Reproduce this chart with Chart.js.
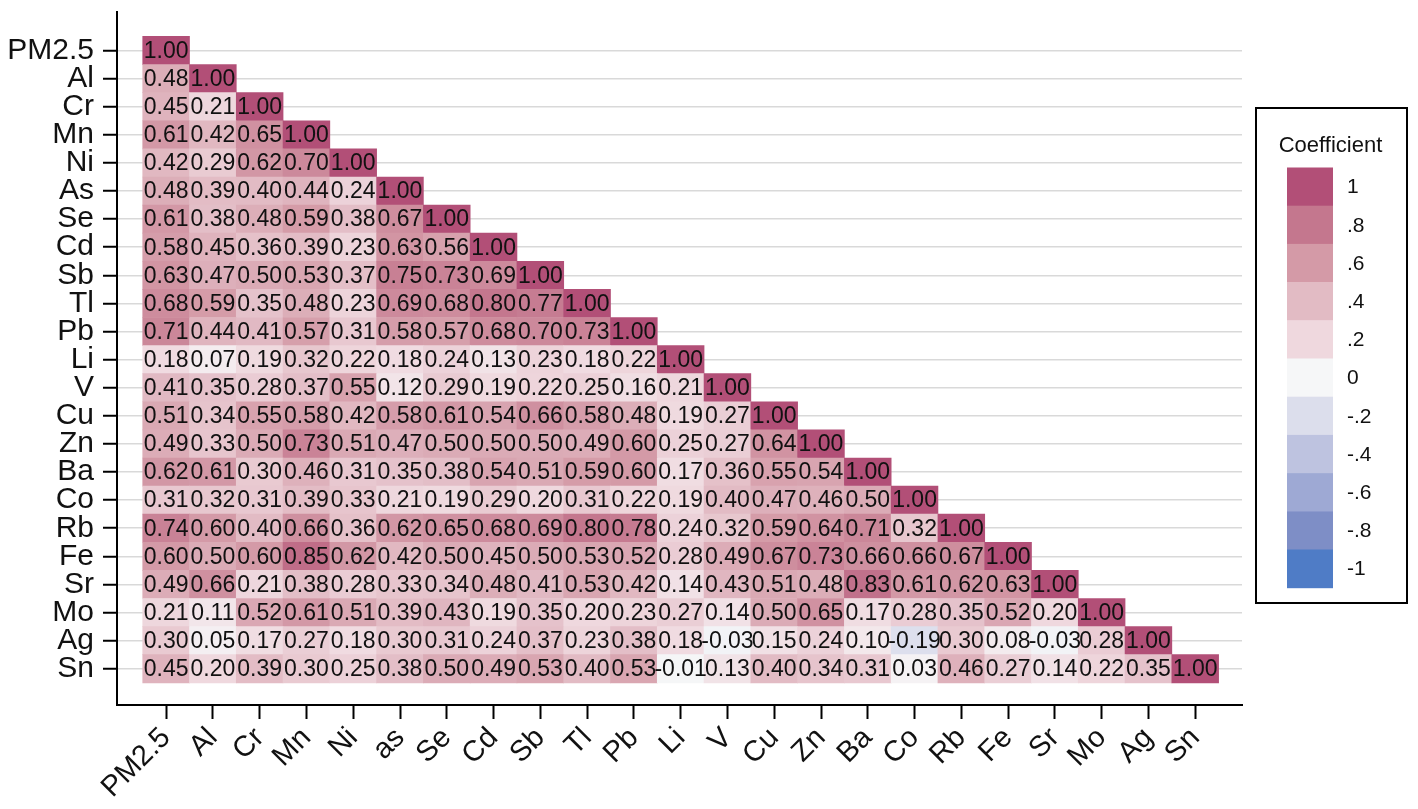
<!DOCTYPE html>
<html>
<head>
<meta charset="utf-8">
<script src="https://cdn.jsdelivr.net/npm/chart.js@4.4.1/dist/chart.umd.min.js"></script>
<style>
  html, body { margin: 0; padding: 0; background: #ffffff; }
  #wrap { width: 1418px; height: 809px; position: relative; }
</style>
</head>
<body>
<div id="wrap"><canvas id="c" width="1418" height="809"></canvas></div>
<script>
// ---------- data ----------
const rowLabels = ["PM2.5","Al","Cr","Mn","Ni","As","Se","Cd","Sb","Tl","Pb","Li","V","Cu","Zn","Ba","Co","Rb","Fe","Sr","Mo","Ag","Sn"];
const colLabels = ["PM2.5","Al","Cr","Mn","Ni","as","Se","Cd","Sb","Tl","Pb","Li","V","Cu","Zn","Ba","Co","Rb","Fe","Sr","Mo","Ag","Sn"];
const coefficients = [
  [1.00],
  [0.48,1.00],
  [0.45,0.21,1.00],
  [0.61,0.42,0.65,1.00],
  [0.42,0.29,0.62,0.70,1.00],
  [0.48,0.39,0.40,0.44,0.24,1.00],
  [0.61,0.38,0.48,0.59,0.38,0.67,1.00],
  [0.58,0.45,0.36,0.39,0.23,0.63,0.56,1.00],
  [0.63,0.47,0.50,0.53,0.37,0.75,0.73,0.69,1.00],
  [0.68,0.59,0.35,0.48,0.23,0.69,0.68,0.80,0.77,1.00],
  [0.71,0.44,0.41,0.57,0.31,0.58,0.57,0.68,0.70,0.73,1.00],
  [0.18,0.07,0.19,0.32,0.22,0.18,0.24,0.13,0.23,0.18,0.22,1.00],
  [0.41,0.35,0.28,0.37,0.55,0.12,0.29,0.19,0.22,0.25,0.16,0.21,1.00],
  [0.51,0.34,0.55,0.58,0.42,0.58,0.61,0.54,0.66,0.58,0.48,0.19,0.27,1.00],
  [0.49,0.33,0.50,0.73,0.51,0.47,0.50,0.50,0.50,0.49,0.60,0.25,0.27,0.64,1.00],
  [0.62,0.61,0.30,0.46,0.31,0.35,0.38,0.54,0.51,0.59,0.60,0.17,0.36,0.55,0.54,1.00],
  [0.31,0.32,0.31,0.39,0.33,0.21,0.19,0.29,0.20,0.31,0.22,0.19,0.40,0.47,0.46,0.50,1.00],
  [0.74,0.60,0.40,0.66,0.36,0.62,0.65,0.68,0.69,0.80,0.78,0.24,0.32,0.59,0.64,0.71,0.32,1.00],
  [0.60,0.50,0.60,0.85,0.62,0.42,0.50,0.45,0.50,0.53,0.52,0.28,0.49,0.67,0.73,0.66,0.66,0.67,1.00],
  [0.49,0.66,0.21,0.38,0.28,0.33,0.34,0.48,0.41,0.53,0.42,0.14,0.43,0.51,0.48,0.83,0.61,0.62,0.63,1.00],
  [0.21,0.11,0.52,0.61,0.51,0.39,0.43,0.19,0.35,0.20,0.23,0.27,0.14,0.50,0.65,0.17,0.28,0.35,0.52,0.20,1.00],
  [0.30,0.05,0.17,0.27,0.18,0.30,0.31,0.24,0.37,0.23,0.38,0.18,-0.03,0.15,0.24,0.10,-0.19,0.30,0.08,-0.03,0.28,1.00],
  [0.45,0.20,0.39,0.30,0.25,0.38,0.50,0.49,0.53,0.40,0.53,-0.01,0.13,0.40,0.34,0.31,0.03,0.46,0.27,0.14,0.22,0.35,1.00]
];
const legendTicks = [1, 0.8, 0.6, 0.4, 0.2, 0, -0.2, -0.4, -0.6, -0.8, -1];
const legendTickLabels = ["1", ".8", ".6", ".4", ".2", "0", "-.2", "-.4", "-.6", "-.8", "-1"];
const legendColors = ["#b24f77","#c4778e","#d49aa7","#e2bbc4","#efd8de","#f6f7f8","#dcdeec","#bec3e0","#9ea9d4","#7e8ec6","#4f7cc6"];
const legendTitle = "Coefficient";

// ---------- helpers ----------
const FONT = "'Liberation Sans', Arial, Helvetica, sans-serif";
function hexToRgb(h) {
  return [parseInt(h.slice(1,3),16), parseInt(h.slice(3,5),16), parseInt(h.slice(5,7),16)];
}
function colorFor(v) {
  for (let k = 0; k < legendTicks.length - 1; k++) {
    const hi = legendTicks[k], lo = legendTicks[k+1];
    if (v <= hi + 1e-9 && v >= lo - 1e-9) {
      const t = (hi - v) / (hi - lo);
      const a = hexToRgb(legendColors[k]), b = hexToRgb(legendColors[k+1]);
      const c = a.map((x, i) => Math.round(x + (b[i] - x) * t));
      return `rgb(${c[0]},${c[1]},${c[2]})`;
    }
  }
  return legendColors[0];
}

const cells = [];
coefficients.forEach((row, i) => {
  row.forEach((v, j) => {
    cells.push({ x: j, y: [i - 0.5, i + 0.5], v: v });
  });
});

function zeroPad(s) { s.paddingLeft = 0; s.paddingRight = 0; s.paddingTop = 0; s.paddingBottom = 0; }

// ---------- plugins ----------
const cellText = {
  id: 'cellText',
  afterDatasetsDraw(chart) {
    const ctx = chart.ctx;
    const meta = chart.getDatasetMeta(0);
    ctx.save();
    ctx.font = `23px ${FONT}`;
    ctx.fillStyle = '#111';
    ctx.textAlign = 'center';
    ctx.textBaseline = 'middle';
    meta.data.forEach((el, idx) => {
      const raw = chart.data.datasets[0].data[idx];
      const cy = (el.y + el.base) / 2;
      ctx.fillText(raw.v.toFixed(2), el.x, cy + 1);
    });
    ctx.restore();
  }
};

const colorLegend = {
  id: 'colorLegend',
  afterDraw(chart) {
    const ctx = chart.ctx;
    ctx.save();
    const bx = 1256, by = 108, bw = 151, bh = 495;
    ctx.fillStyle = '#ffffff';
    ctx.fillRect(bx, by, bw, bh);
    ctx.lineWidth = 2;
    ctx.strokeStyle = '#000';
    ctx.strokeRect(bx, by, bw, bh);
    ctx.fillStyle = '#111';
    ctx.font = `22px ${FONT}`;
    ctx.textAlign = 'center';
    ctx.textBaseline = 'middle';
    ctx.fillText(legendTitle, bx + bw / 2 - 1, 146);
    const x0 = 1287, w = 46, y0 = 167.5, h = 38.2;
    legendColors.forEach((c, k) => {
      ctx.fillStyle = c;
      ctx.fillRect(x0, y0 + k * h, w, h + 0.5);
    });
    ctx.fillStyle = '#111';
    ctx.font = `21px ${FONT}`;
    ctx.textAlign = 'left';
    legendTickLabels.forEach((t, k) => {
      ctx.fillText(t, 1347, y0 + k * h + h / 2 + 1);
    });
    ctx.restore();
  }
};

// ---------- chart ----------
new Chart(document.getElementById('c'), {
  type: 'bar',
  data: {
    datasets: [{
      data: cells,
      backgroundColor: (ctx) => ctx.raw ? colorFor(ctx.raw.v) : '#fff',
      borderWidth: 0,
      barPercentage: 1.0,
      categoryPercentage: 1.0,
      grouped: false
    }]
  },
  options: {
    responsive: false,
    animation: false,
    events: [],
    layout: { padding: { top: 12, right: 176, left: 0, bottom: 0 } },
    plugins: {
      legend: { display: false },
      tooltip: { enabled: false },
      title: { display: false }
    },
    scales: {
      x: {
        type: 'linear',
        offset: false,
        min: -1.05,
        max: 23.0,
        afterBuildTicks: (s) => { s.ticks = colLabels.map((_, i) => ({ value: i })); },
        afterFit: (s) => { s.height = 104; zeroPad(s); },
        ticks: {
          autoSkip: false,
          minRotation: 45,
          maxRotation: 45,
          padding: 2,
          color: '#111',
          font: { size: 29, family: FONT },
          callback: (v) => colLabels[v]
        },
        grid: { offset: false, drawOnChartArea: false, tickColor: '#000', tickWidth: 2, tickLength: 14 },
        border: { display: true, color: '#000', width: 2 }
      },
      y: {
        type: 'linear',
        reverse: true,
        offset: false,
        min: -1.37,
        max: 23.29,
        afterBuildTicks: (s) => { s.ticks = rowLabels.map((_, i) => ({ value: i })); },
        afterFit: (s) => { s.width = 117; zeroPad(s); },
        ticks: {
          autoSkip: false,
          padding: 9,
          color: '#111',
          font: { size: 30, family: FONT },
          callback: (v) => rowLabels[v]
        },
        grid: { offset: false, color: '#d9d9d9', lineWidth: 1.5, tickColor: '#000', tickWidth: 2, tickLength: 14 },
        border: { display: true, color: '#000', width: 2 }
      }
    }
  },
  plugins: [cellText, colorLegend]
});
</script>
</body>
</html>
